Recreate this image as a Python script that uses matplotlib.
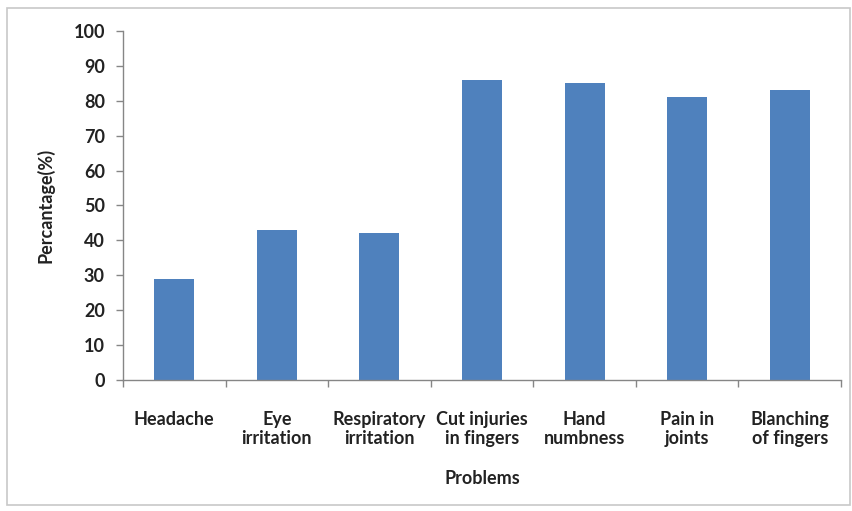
import matplotlib
matplotlib.use("Agg")
import matplotlib.pyplot as plt
from matplotlib.patches import Rectangle
import numpy as np

categories = ["Headache", "Eye\nirritation", "Respiratory\nirritation", "Cut injuries\nin fingers",
              "Hand\nnumbness", "Pain in\njoints", "Blanching\nof fingers"]
percentages = [29, 43, 42, 86, 85, 81, 83]
y_ticks = [0, 10, 20, 30, 40, 50, 60, 70, 80, 90, 100]

plt.rcParams['font.family'] = ['Lato', 'DejaVu Sans']

fig = plt.figure(figsize=(8.53, 5.11), dpi=100)
ax = fig.add_axes([0.1442, 0.2564, 0.9859 - 0.1442, 0.9393 - 0.2564])

# outer chart frame
fig.patches.append(Rectangle((0.008, 0.012), 0.988, 0.972, transform=fig.transFigure,
                             fill=False, edgecolor='#c8c8c8', linewidth=1.2))

x = np.arange(len(categories))
ax.bar(x, percentages, width=0.39, color='#4f81bd', zorder=2)

ax.set_xlim(-0.5, len(categories) - 0.5)
ax.set_ylim(0, 100)
ax.set_yticks(y_ticks)
ax.set_yticklabels([str(t) for t in y_ticks], fontsize=13, fontweight='bold', color='#222222')

# category labels centred under bars, tick marks at category boundaries
ax.set_xticks(x)
ax.set_xticklabels(categories, fontsize=13, fontweight='bold', color='#222222',
                   va='top', linespacing=1.15)
ax.tick_params(axis='x', which='major', length=0, pad=22)
ax.set_xticks(np.arange(len(categories) + 1) - 0.5, minor=True)
ax.tick_params(axis='x', which='minor', length=5, color='#868686', width=1)
ax.tick_params(axis='y', length=5, color='#868686', width=1, pad=8)

for side in ['top', 'right']:
    ax.spines[side].set_visible(False)
for side in ['left', 'bottom']:
    ax.spines[side].set_color('#868686')
    ax.spines[side].set_linewidth(1)

fig.text(45 / 853, 1 - 205 / 511, "Percantage(%)", rotation=90, ha='center', va='center',
         fontsize=13, fontweight='bold', color='#222222')
fig.text(482 / 853, 1 - 478 / 511, "Problems", ha='center', va='center',
         fontsize=13, fontweight='bold', color='#222222')

fig.savefig("out.png", dpi=100)
